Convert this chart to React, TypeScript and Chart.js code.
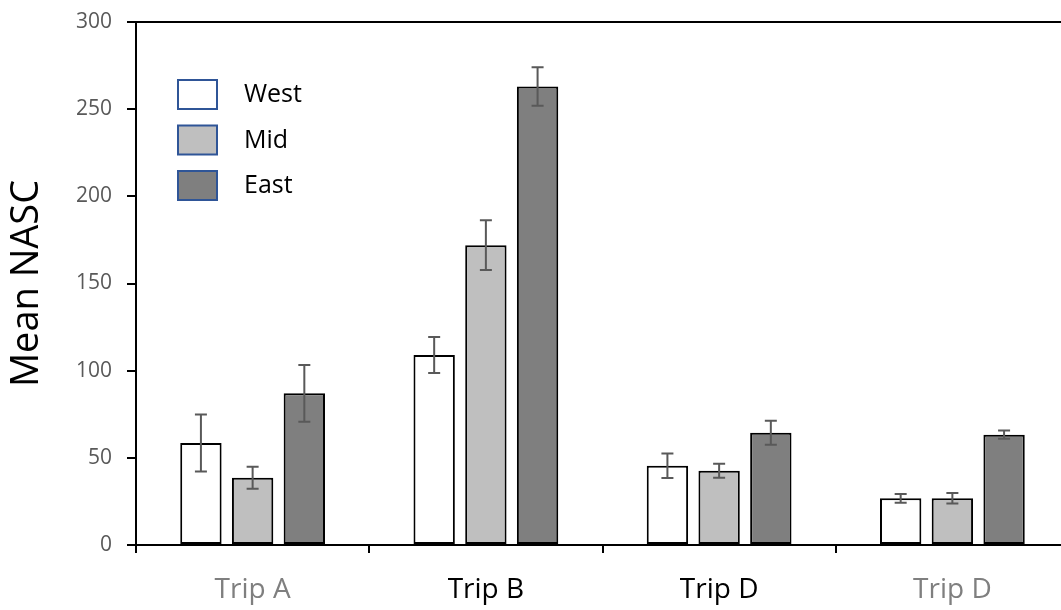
import React, { useEffect, useRef } from 'react';
import { Chart, registerables } from 'chart.js';

Chart.register(...registerables);

const categories = ['Trip A', 'Trip B', 'Trip D', 'Trip D'];
const categoryLabelColors = ['#7f7f7f', '#000000', '#000000', '#7f7f7f'];
const seriesNames = ['West', 'Mid', 'East'];
const seriesColors = ['#ffffff', '#bfbfbf', '#7f7f7f'];
const westValues = [58.5, 109, 45.5, 26.8];
const westErrors = [16.3, 10.3, 7.0, 2.5];
const midValues = [38.6, 172, 42.6, 26.8];
const midErrors = [6.3, 14.3, 4.0, 3.0];
const eastValues = [87, 263, 64.4, 63.3];
const eastErrors = [16.3, 11.0, 6.9, 2.4];
const yMin = 0;
const yMax = 300;
const yStep = 50;

const FONT = "'Open Sans', 'Noto Sans', sans-serif";

const errorBarPlugin = {
  id: 'errorBars',
  afterDatasetsDraw(chart: any) {
    const ctx = chart.ctx;
    const yScale = chart.scales.y;
    ctx.save();
    ctx.strokeStyle = '#595959';
    ctx.lineWidth = 2;
    chart.data.datasets.forEach((ds: any, i: number) => {
      const meta = chart.getDatasetMeta(i);
      meta.data.forEach((bar: any, j: number) => {
        const v = ds.data[j];
        const e = ds.errors[j];
        const x = bar.x;
        const yTop = yScale.getPixelForValue(v + e);
        const yBot = yScale.getPixelForValue(v - e);
        ctx.beginPath();
        ctx.moveTo(x, yTop);
        ctx.lineTo(x, yBot);
        ctx.moveTo(x - 6, yTop);
        ctx.lineTo(x + 6, yTop);
        ctx.moveTo(x - 6, yBot);
        ctx.lineTo(x + 6, yBot);
        ctx.stroke();
      });
    });
    ctx.restore();
  },
};

const legendPlugin = {
  id: 'customLegend',
  afterDraw(chart: any) {
    const ctx = chart.ctx;
    const area = chart.chartArea;
    const x0 = area.left + 42;
    const y0 = area.top + 58;
    ctx.save();
    chart.data.datasets.forEach((ds: any, i: number) => {
      const y = y0 + i * 45.5;
      ctx.fillStyle = ds.backgroundColor;
      ctx.fillRect(x0, y, 39, 29);
      ctx.strokeStyle = '#2f5597';
      ctx.lineWidth = 2;
      ctx.strokeRect(x0, y, 39, 29);
      ctx.fillStyle = '#000000';
      ctx.font = `25px ${FONT}`;
      ctx.textBaseline = 'middle';
      ctx.textAlign = 'left';
      ctx.fillText(ds.label, x0 + 66, y + 15);
    });
    ctx.restore();
  },
};

export default function App() {
  const ref = useRef<HTMLCanvasElement | null>(null);

  useEffect(() => {
    if (!ref.current) return;
    const valueSets = [westValues, midValues, eastValues];
    const errorSets = [westErrors, midErrors, eastErrors];
    const chart = new Chart(ref.current, {
      type: 'bar',
      data: {
        labels: categories,
        datasets: seriesNames.map((name, i) => ({
          label: name,
          data: valueSets[i],
          errors: errorSets[i],
          backgroundColor: seriesColors[i],
          borderColor: '#000000',
          borderWidth: 2,
          borderSkipped: false,
          categoryPercentage: 0.665,
          barPercentage: 0.8,
        })) as any,
      },
      options: {
        animation: false,
        responsive: false,
        layout: { padding: { top: 22, right: 1, bottom: 0, left: 0 } },
        plugins: {
          legend: { display: false },
          tooltip: { enabled: false },
        },
        scales: {
          x: {
            offset: true,
            grid: {
              offset: true,
              drawOnChartArea: false,
              color: '#000000',
              tickColor: '#000000',
              tickLength: 8,
              lineWidth: 2,
            },
            border: { color: '#000000', width: 2 },
            ticks: {
              color: categoryLabelColors as any,
              font: { family: FONT, size: 28 },
              padding: 20,
              maxRotation: 0,
            },
            afterFit(scale: any) {
              scale.height = 65;
              scale.paddingLeft = 0;
              scale.paddingRight = 0;
            },
          },
          y: {
            min: yMin,
            max: yMax,
            ticks: {
              stepSize: yStep,
              color: '#595959',
              font: { family: FONT, size: 21 },
              padding: 15,
            },
            grid: {
              drawOnChartArea: true,
              color: (c: any) => (c.tick && c.tick.value === yMax ? '#000000' : 'rgba(0,0,0,0)'),
              tickColor: '#000000',
              tickLength: 9,
              lineWidth: 2,
            },
            border: { color: '#000000', width: 2 },
            title: {
              display: true,
              text: 'Mean NASC',
              color: '#000000',
              font: { family: FONT, size: 38 },
              padding: { top: 4, bottom: 0 },
            },
            afterFit(scale: any) {
              scale.width = 136;
              scale.paddingTop = 0;
              scale.paddingBottom = 0;
            },
          },
        },
      },
      plugins: [errorBarPlugin, legendPlugin],
    });
    return () => chart.destroy();
  }, []);

  return (
    <div style={{ position: 'absolute', left: 0, top: 0, width: 1061, height: 610, overflow: 'hidden', background: '#ffffff' }}>
      <canvas ref={ref} width={1070} height={610} style={{ display: 'block' }} />
    </div>
  );
}
